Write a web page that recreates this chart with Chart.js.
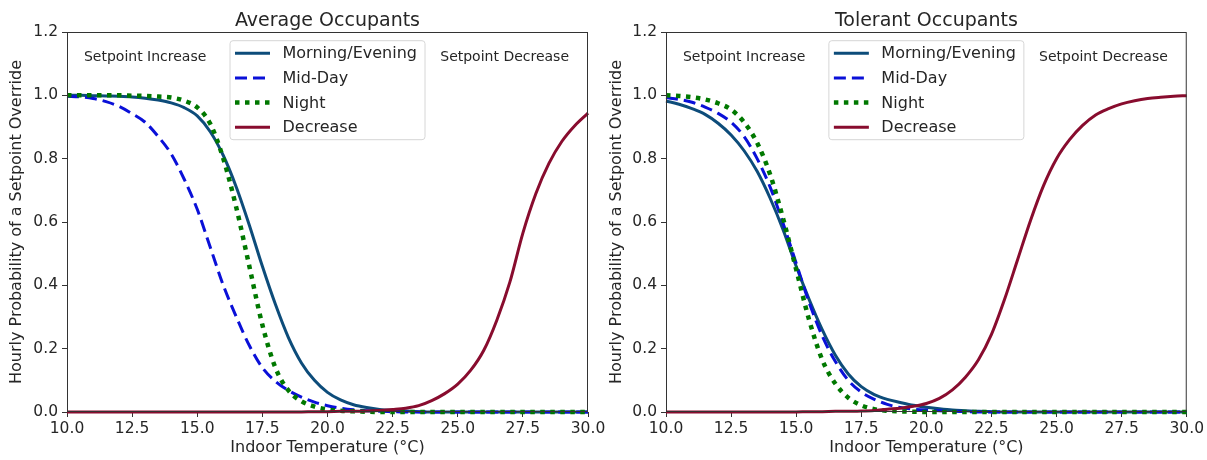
<!DOCTYPE html>
<html>
<head>
<meta charset="utf-8">
<script src="https://cdn.jsdelivr.net/npm/chart.js@4.4.0/dist/chart.umd.min.js"></script>
<style>
    html, body { margin: 0; padding: 0; background: #fff; }
    #wrap { position: relative; width: 1207px; height: 460px; overflow: hidden; }
    canvas { position: absolute; top: 0; }
</style>
</head>
<body>
<div id="wrap">
    <canvas id="chart-avg" width="610" height="460" style="left:0px;width:610px;height:460px"></canvas>
    <canvas id="chart-tol" width="607" height="460" style="left:600px;width:607px;height:460px"></canvas>
</div>
<script>
// indoor temperature (°C), 0.5 degree steps
const temps = [10, 10.5, 11, 11.5, 12, 12.5, 13, 13.5, 14, 14.5, 15, 15.5, 16, 16.5, 17, 17.5, 18, 18.5, 19, 19.5,
               20, 20.5, 21, 21.5, 22, 22.5, 23, 23.5, 24, 24.5, 25, 25.5, 26, 26.5, 27, 27.5, 28, 28.5, 29, 29.5, 30];

// Average occupants
const avgMorning = [1.0, 1.0, 0.999, 0.998, 0.997, 0.995, 0.991, 0.985, 0.976, 0.961, 0.935, 0.885, 0.81, 0.71, 0.59, 0.46, 0.34, 0.235, 0.155, 0.1,
                    0.062, 0.038, 0.023, 0.014, 0.008, 0.005, 0.003, 0.001, 0, 0, 0, 0, 0, 0, 0, 0, 0, 0, 0, 0, 0];
const avgMidDay  = [0.997, 0.995, 0.99, 0.98, 0.965, 0.942, 0.915, 0.87, 0.815, 0.735, 0.64, 0.52, 0.4, 0.3, 0.21, 0.14, 0.097, 0.068, 0.047, 0.031,
                    0.02, 0.012, 0.007, 0.004, 0.002, 0.001, 0, 0, 0, 0, 0, 0, 0, 0, 0, 0, 0, 0, 0, 0, 0];
const avgNight   = [1.0, 1.0, 1.0, 1.0, 1.0, 0.999, 0.998, 0.996, 0.993, 0.983, 0.962, 0.91, 0.8, 0.645, 0.46, 0.275, 0.14, 0.068, 0.034, 0.017,
                    0.008, 0.004, 0.002, 0.001, 0, 0, 0, 0, 0, 0, 0, 0, 0, 0, 0, 0, 0, 0, 0, 0, 0];
const avgDecrease = [0, 0, 0, 0, 0, 0, 0, 0, 0, 0, 0, 0, 0, 0, 0, 0, 0, 0, 0, 0.001,
                     0.001, 0.002, 0.002, 0.003, 0.005, 0.008, 0.012, 0.02, 0.036, 0.058, 0.088, 0.132, 0.195, 0.29, 0.41, 0.565, 0.69, 0.785, 0.855, 0.905, 0.944];

// Tolerant occupants
const tolMorning = [0.982, 0.972, 0.958, 0.94, 0.912, 0.875, 0.825, 0.76, 0.675, 0.575, 0.46, 0.355, 0.26, 0.18, 0.12, 0.08, 0.055, 0.04, 0.03, 0.021,
                    0.015, 0.01, 0.006, 0.004, 0.002, 0.001, 0, 0, 0, 0, 0, 0, 0, 0, 0, 0, 0, 0, 0, 0, 0];
const tolMidDay  = [0.993, 0.987, 0.978, 0.963, 0.943, 0.915, 0.87, 0.8, 0.71, 0.595, 0.47, 0.345, 0.24, 0.16, 0.1, 0.063, 0.04, 0.024, 0.014, 0.009,
                    0.006, 0.004, 0.002, 0.001, 0, 0, 0, 0, 0, 0, 0, 0, 0, 0, 0, 0, 0, 0, 0, 0, 0];
const tolNight   = [1.0, 0.998, 0.994, 0.987, 0.975, 0.955, 0.915, 0.85, 0.75, 0.61, 0.45, 0.29, 0.165, 0.09, 0.045, 0.021, 0.009, 0.004, 0.002, 0.001,
                    0, 0, 0, 0, 0, 0, 0, 0, 0, 0, 0, 0, 0, 0, 0, 0, 0, 0, 0, 0, 0];
const tolDecrease = [0, 0, 0, 0, 0, 0, 0, 0, 0, 0, 0, 0.001, 0.001, 0.002, 0.002, 0.003, 0.005, 0.009, 0.012, 0.018,
                     0.027, 0.043, 0.07, 0.11, 0.165, 0.245, 0.355, 0.48, 0.605, 0.715, 0.8, 0.86, 0.905, 0.938, 0.958, 0.973, 0.983, 0.99, 0.994, 0.997, 0.999];

const seriesNames = ["Morning/Evening", "Mid-Day", "Night", "Decrease"];
const xTicks = [10, 12.5, 15, 17.5, 20, 22.5, 25, 27.5, 30];

const FONT = '"DejaVu Sans", sans-serif';
const TEXT = '#262626';

const styles = [
    { color: '#0d4c7a', width: 3, dash: [] },
    { color: '#0a10d8', width: 3, dash: [12, 6] },
    { color: '#007800', width: 4.5, dash: [4.5, 5.5] },
    { color: '#880c2e', width: 3, dash: [] }
];

const toPoints = vals => temps.map((t, i) => ({ x: t, y: vals[i] }));

// title, annotations, legend, frame
const decor = {
    id: 'decor',
    afterDatasetsDraw(chart, args, opts) {
        const { ctx, chartArea: a, scales } = chart;
        const cx = (a.left + a.right) / 2;
        ctx.save();

        // frame
        ctx.strokeStyle = '#333';
        ctx.lineWidth = 1;
        ctx.strokeRect(a.left + 0.5, a.top + 0.5, a.right - a.left - 1, a.bottom - a.top - 1);

        ctx.fillStyle = TEXT;
        ctx.font = '19px ' + FONT;
        ctx.textAlign = 'center';
        ctx.textBaseline = 'alphabetic';
        ctx.fillText(opts.title, cx, 25.5);

        ctx.font = '14px ' + FONT;
        ctx.textBaseline = 'middle';
        opts.notes.forEach(n => {
            ctx.fillText(n.text, scales.x.getPixelForValue(n.x), scales.y.getPixelForValue(n.y));
        });

        // legend
        const bw = 195, bh = 99;
        const bx = cx - bw / 2, by = a.top + 8.7;
        ctx.beginPath();
        ctx.roundRect(bx, by, bw, bh, 3);
        ctx.fillStyle = 'rgba(255,255,255,0.85)';
        ctx.fill();
        ctx.strokeStyle = '#d6d6d6';
        ctx.stroke();

        ctx.font = '16px ' + FONT;
        ctx.textAlign = 'left';
        chart.data.datasets.forEach((ds, i) => {
            const y = by + 12.5 + i * 24.7;
            ctx.beginPath();
            ctx.setLineDash(ds.borderDash || []);
            ctx.lineWidth = ds.borderWidth;
            ctx.strokeStyle = ds.borderColor;
            ctx.moveTo(bx + 5, y);
            ctx.lineTo(bx + 40, y);
            ctx.stroke();
            ctx.setLineDash([]);
            ctx.fillStyle = TEXT;
            ctx.fillText(ds.label, bx + 52.5, y + 1);
        });
        ctx.restore();
    }
};

function makeChart(id, title, values, yWidth, padRight) {
    const ctx = document.getElementById(id);
    return new Chart(ctx, {
        type: 'line',
        data: {
            datasets: values.map((vals, i) => ({
                label: seriesNames[i],
                data: toPoints(vals),
                borderColor: styles[i].color,
                borderWidth: styles[i].width,
                borderDash: styles[i].dash,
                borderCapStyle: 'butt',
                pointRadius: 0,
                cubicInterpolationMode: 'monotone',
                fill: false,
                clip: false,
                order: values.length - i
            }))
        },
        options: {
            responsive: false,
            animation: false,
            events: [],
            layout: { padding: { top: 32, right: padRight, bottom: 0, left: 0 } },
            plugins: {
                legend: { display: false },
                tooltip: { enabled: false },
                decor: {
                    title: title,
                    notes: [
                        { text: 'Setpoint Increase', x: 13, y: 1.12 },
                        { text: 'Setpoint Decrease', x: 26.8, y: 1.12 }
                    ]
                }
            },
            scales: {
                x: {
                    type: 'linear',
                    min: 10,
                    max: 30,
                    afterBuildTicks: s => { s.ticks = xTicks.map(v => ({ value: v })); },
                    afterFit: s => { s.height = 48; },
                    grid: { drawOnChartArea: false, drawTicks: true, tickLength: 5, color: '#333' },
                    border: { display: false },
                    ticks: {
                        color: TEXT,
                        font: { family: FONT, size: 15.5 },
                        padding: 3,
                        maxRotation: 0,
                        autoSkip: false,
                        callback: v => v.toFixed(1)
                    },
                    title: {
                        display: true,
                        text: 'Indoor Temperature (°C)',
                        color: TEXT,
                        font: { family: FONT, size: 16 },
                        padding: { top: 0, bottom: 2.4 }
                    }
                },
                y: {
                    min: 0,
                    max: 1.2,
                    afterFit: s => { s.width = yWidth; },
                    grid: { drawOnChartArea: false, drawTicks: true, tickLength: 5, color: '#333' },
                    border: { display: false },
                    ticks: {
                        stepSize: 0.2,
                        color: TEXT,
                        font: { family: FONT, size: 15.5 },
                        padding: 4,
                        callback: v => v.toFixed(1)
                    },
                    title: {
                        display: true,
                        text: 'Hourly Probability of a Setpoint Override',
                        color: TEXT,
                        font: { family: FONT, size: 16 },
                        padding: { top: 7.4, bottom: 0 }
                    }
                }
            }
        },
        plugins: [decor]
    });
}

makeChart('chart-avg', 'Average Occupants', [avgMorning, avgMidDay, avgNight, avgDecrease], 67, 22);
makeChart('chart-tol', 'Tolerant Occupants', [tolMorning, tolMidDay, tolNight, tolDecrease], 66, 20);
</script>
</body>
</html>
